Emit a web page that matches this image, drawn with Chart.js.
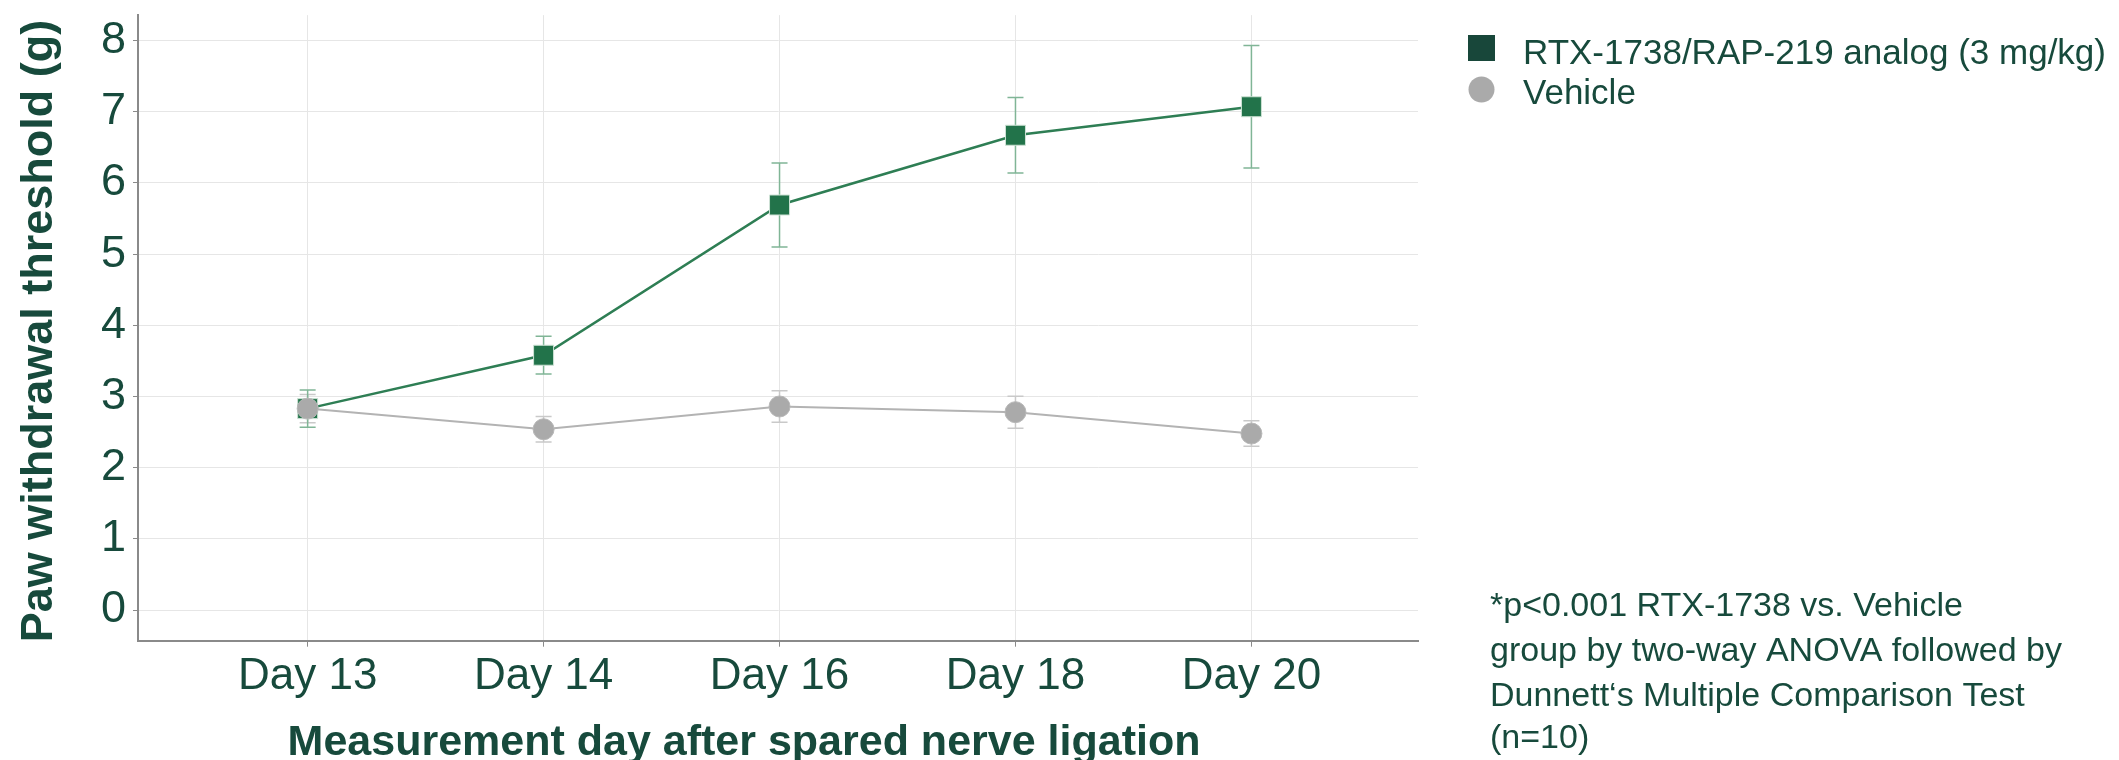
<!DOCTYPE html>
<html><head><meta charset="utf-8">
<script src="https://cdn.jsdelivr.net/npm/chart.js@4.4.1/dist/chart.umd.min.js"></script>
<style>html,body{margin:0;padding:0;background:#fff;overflow:hidden}#c{display:block}</style>
</head><body>
<canvas id="c" width="2119" height="760"></canvas>
<script>
// ---- data ----
const days = ['Day 13', 'Day 14', 'Day 16', 'Day 18', 'Day 20'];
const rtxMean = [2.83, 3.58, 5.69, 6.67, 7.07];
const rtxErr  = [0.26, 0.265, 0.59, 0.53, 0.86];
const vehMean = [2.83, 2.54, 2.86, 2.78, 2.48];
const vehErr  = [0.20, 0.18, 0.22, 0.225, 0.18];
const yTicks  = [0, 1, 2, 3, 4, 5, 6, 7, 8];
const rtxLabel = 'RTX-1738/RAP-219 analog (3 mg/kg)';
const vehLabel = 'Vehicle';
const xTitle = 'Measurement day after spared nerve ligation';
const yTitle = 'Paw withdrawal threshold (g)';
const noteLines = ['*p<0.001 RTX-1738 vs. Vehicle', 'group by two-way ANOVA followed by', 'Dunnett\u2018s Multiple Comparison Test', '(n=10)'];

const TXT = '#174a3c';
const FONT = '"Liberation Sans", Arial, sans-serif';

const errorBars = {
  id: 'errorBars',
  beforeDatasetsDraw(chart) {
    const ctx = chart.ctx, y = chart.scales.y;
    chart.data.datasets.forEach((ds, di) => {
      const meta = chart.getDatasetMeta(di);
      ctx.save();
      ctx.strokeStyle = ds.errColor;
      ctx.lineWidth = 1.5;
      meta.data.forEach((pt, i) => {
        const m = ds.data[i].y, e = ds.errs[i];
        const yt = y.getPixelForValue(m + e), yb = y.getPixelForValue(m - e);
        const x = pt.x;
        ctx.beginPath();
        ctx.moveTo(x, yt); ctx.lineTo(x, yb);
        ctx.moveTo(x - 8, yt); ctx.lineTo(x + 8, yt);
        ctx.moveTo(x - 8, yb); ctx.lineTo(x + 8, yb);
        ctx.stroke();
      });
      ctx.restore();
    });
  }
};

const texts = {
  id: 'texts',
  afterDraw(chart) {
    const ctx = chart.ctx;
    ctx.save();
    ctx.fillStyle = TXT;
    // y title
    ctx.save();
    ctx.translate(52, 331);
    ctx.rotate(-Math.PI / 2);
    ctx.font = 'bold 45px ' + FONT;
    ctx.textAlign = 'center';
    ctx.textBaseline = 'alphabetic';
    ctx.fillText(yTitle, 0, 0);
    ctx.restore();
    // x title
    ctx.font = 'bold 43px ' + FONT;
    ctx.textAlign = 'center';
    ctx.textBaseline = 'alphabetic';
    ctx.fillText(xTitle, 744, 755);
    // legend
    ctx.fillStyle = '#18473a';
    ctx.fillRect(1468, 35, 27, 26);
    ctx.fillStyle = '#aaaaaa';
    ctx.beginPath(); ctx.arc(1481.5, 89.5, 13, 0, Math.PI * 2); ctx.fill();
    ctx.fillStyle = TXT;
    ctx.font = '35px ' + FONT;
    ctx.textAlign = 'left';
    ctx.fillText(rtxLabel, 1523, 64);
    ctx.fillText(vehLabel, 1523, 104);
    // note
    ctx.font = '34px ' + FONT;
    const base = [616, 661, 706, 748];
    noteLines.forEach((t, i) => ctx.fillText(t, 1490, base[i]));
    ctx.restore();
  }
};

new Chart(document.getElementById('c'), {
  type: 'line',
  data: {
    datasets: [
      {
        label: vehLabel,
        data: vehMean.map((v, i) => ({x: i, y: v})),
        errs: vehErr, errColor: '#c9c9c9',
        borderColor: '#b3b3b3', borderWidth: 2,
        pointStyle: 'circle', pointRadius: 10.5,
        pointBackgroundColor: '#aaaaaa', pointBorderColor: '#b8b8b8', pointBorderWidth: 1,
        order: 1, tension: 0
      },
      {
        label: rtxLabel,
        data: rtxMean.map((v, i) => ({x: i, y: v})),
        errs: rtxErr, errColor: '#80b596',
        borderColor: '#2e7e54', borderWidth: 2.5,
        pointStyle: 'rect', pointRadius: 14.14,
        pointBackgroundColor: '#22734a', pointBorderColor: '#cfe3d6', pointBorderWidth: 1,
        order: 2, tension: 0
      }
    ]
  },
  options: {
    responsive: false, animation: false, devicePixelRatio: 1,
    events: [],
    layout: {padding: {left: 0, top: 12, right: 701, bottom: 0}},
    plugins: {legend: {display: false}, tooltip: {enabled: false}},
    scales: {
      x: {
        type: 'linear', min: -0.719, max: 4.706,
        afterBuildTicks: s => { s.ticks = days.map((d, i) => ({value: i})); },
        afterFit: s => { s.height = 119.3; s.paddingLeft = 0; s.paddingRight = 0; },
        ticks: {callback: v => days[v], color: TXT, font: {family: FONT, size: 44}, padding: 4, maxRotation: 0, autoSkip: false},
        grid: {color: '#e6e6e6', lineWidth: 1, tickLength: 6, tickColor: '#8a8a8a', drawOnChartArea: true},
        border: {color: '#8a8a8a', width: 2}
      },
      y: {
        min: -0.43, max: 8.357,
        afterBuildTicks: s => { s.ticks = yTicks.map(v => ({value: v})); },
        afterFit: s => { s.width = 138; s.paddingTop = 0; s.paddingBottom = 0; },
        ticks: {color: TXT, font: {family: FONT, size: 45}, padding: 7},
        grid: {color: '#e6e6e6', lineWidth: 1, tickLength: 5, tickColor: '#8a8a8a'},
        border: {color: '#8a8a8a', width: 2}
      }
    }
  },
  plugins: [errorBars, texts]
});
</script>
</body></html>
